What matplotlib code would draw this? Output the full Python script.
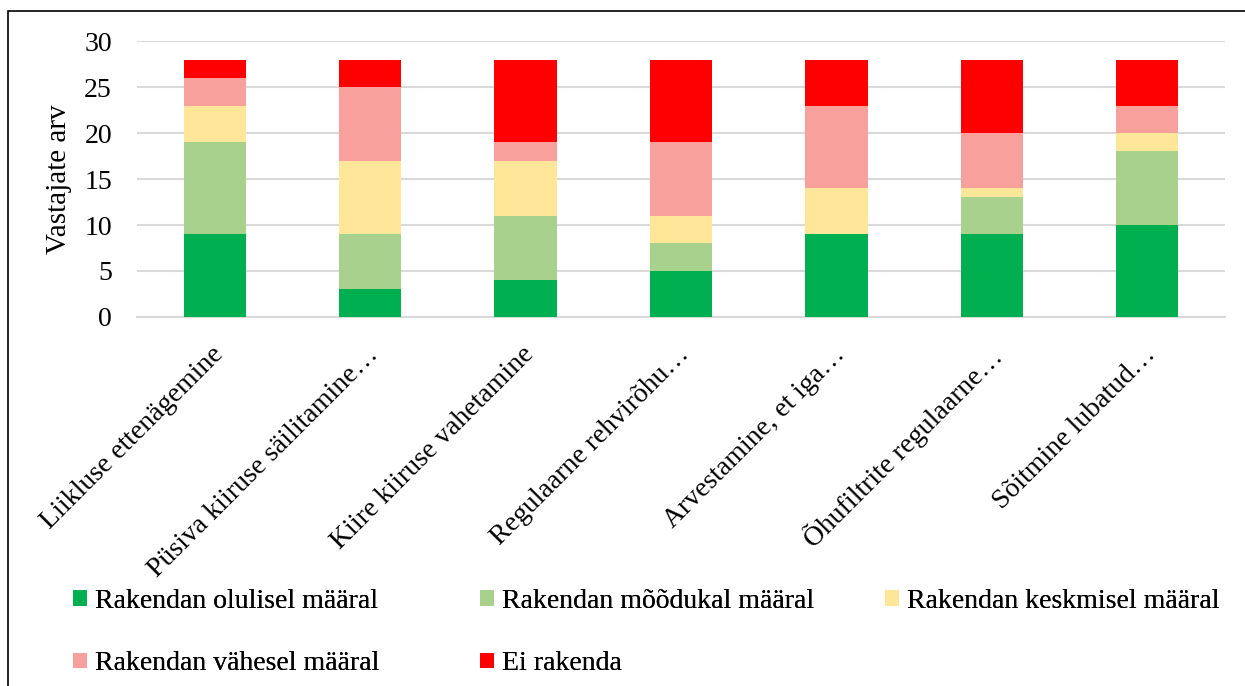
import matplotlib.pyplot as plt
import matplotlib.transforms as mtransforms
import numpy as np
from matplotlib.patches import Rectangle

# andmed: vastajate arv iga tegevuse ja rakendamise astme kohta
tegevused = ['Liikluse ettenägemine', 'Püsiva kiiruse säilitamine…',
             'Kiire kiiruse vahetamine', 'Regulaarne rehvirõhu…',
             'Arvestamine, et iga…', 'Õhufiltrite regulaarne…',
             'Sõitmine lubatud…']
olulisel = [9, 3, 4, 5, 9, 9, 10]
moodukal = [10, 6, 7, 3, 0, 4, 8]
keskmisel = [4, 8, 6, 3, 5, 1, 2]
vahesel = [3, 8, 2, 8, 9, 6, 3]
ei_rakenda = [2, 3, 9, 9, 5, 8, 5]

seeriad = [olulisel, moodukal, keskmisel, vahesel, ei_rakenda]
nimed = ['Rakendan olulisel määral', 'Rakendan mõõdukal määral',
         'Rakendan keskmisel määral', 'Rakendan vähesel määral', 'Ei rakenda']
varvid = ['#00b050', '#a9d18e', '#ffe699', '#f8a09c', '#ff0000']

plt.rcParams['font.family'] = ['Liberation Serif', 'DejaVu Serif']

fig = plt.figure(figsize=(12.45, 6.86), dpi=100)
ax = fig.add_axes([0.110, 0.538, 0.874, 0.402])

x = np.arange(len(tegevused))
alus = np.zeros(len(tegevused))
tulbad = []
for vaartused, nimi, v in zip(seeriad, nimed, varvid):
    b = ax.bar(x, vaartused, 0.4, bottom=alus, color=v, label=nimi, zorder=3)
    tulbad.append(b)
    alus += np.array(vaartused)

ax.set_xlim(-0.5, len(tegevused) - 0.5)
ax.set_ylim(0, 30)
ax.set_yticks(range(0, 31, 5))
ax.tick_params(axis='y', labelsize=20, length=0, pad=18)
ax.tick_params(axis='x', length=0)
ax.set_xticks(x)
ax.set_xticklabels(tegevused, rotation=45, ha='right', va='top',
                   rotation_mode='anchor', fontsize=20)
# kategooriate sildid veidi allapoole ja vasakule
nihe = mtransforms.ScaledTranslation(-4 / 100, -20 / 100, fig.dpi_scale_trans)
for lbl in ax.get_xticklabels():
    lbl.set_transform(lbl.get_transform() + nihe)
ax.set_ylabel('Vastajate arv', fontsize=21, labelpad=9)
ax.grid(axis='y', color='#d9d9d9', linewidth=1.5, zorder=0)
for s in ['top', 'right', 'left']:
    ax.spines[s].set_visible(False)
ax.spines['bottom'].set_color('#d9d9d9')
ax.spines['bottom'].set_linewidth(1.5)

# legend kolmes veerus, read üleval ja all
veerud = [[0, 3], [1, 4], [2]]
veeru_x = [73, 480, 885]
for idx, vx in zip(veerud, veeru_x):
    leg = fig.legend([tulbad[i] for i in idx], [nimed[i] for i in idx],
                     loc='upper left', bbox_to_anchor=(vx / 1245, 0.142),
                     frameon=False, fontsize=20, handlelength=0.5,
                     handleheight=0.5, handletextpad=0.3, labelspacing=1.36,
                     borderpad=0, borderaxespad=0)
    fig.add_artist(leg)

# raam ümber joonise
fig.add_artist(Rectangle((8 / 1245, -0.05), 1.1, 1 - 11 / 686 + 0.05,
                         transform=fig.transFigure, fill=False,
                         edgecolor='black', linewidth=1.2))

fig.savefig('out.png', dpi=100)
